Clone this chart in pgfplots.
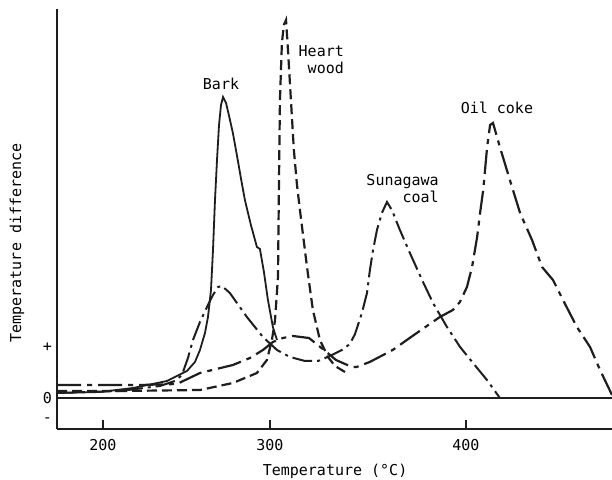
\documentclass[border=0pt]{standalone}
\usepackage{pgfplots}
\pgfplotsset{compat=1.18}
\usepackage{fontspec}
\setmainfont{DejaVu Sans Mono}
\definecolor{ink}{RGB}{30,30,30}
\begin{document}
\fontsize{15bp}{17bp}\selectfont
\begin{tikzpicture}
\useasboundingbox (0,0) rectangle (612bp,480bp);
\fill[white] (0,0) rectangle (612bp,480bp);
\begin{axis}[
  at={(57bp,51bp)}, anchor=south west,
  scale only axis, width=555bp, height=420bp,
  x coord trafo/.code={\pgfmathparse{103+1.67*(#1-200)+0.29*max(#1-300,0)}},
  xmin=172.5, xmax=474.5, ymin=-3.1, ymax=38.9,
  axis x line=bottom, axis y line=left,
  x axis line style={-, line width=2.4bp, ink},
  y axis line style={-, line width=2.4bp, ink},
  xtick={200,300,400}, xticklabels={200,300,400},
  ytick={-2.2,0,5.1}, yticklabels={-,0,+},
  xticklabel style={yshift=-5bp},
  major tick length=0pt,
  ytick style={draw=none},
  xlabel={Temperature (°C)}, ylabel={Temperature difference},
  xlabel style={at={(axis description cs:0.501,-0.1)}, anchor=center},
  ylabel style={at={(axis description cs:-0.072,0.443)}, anchor=center},
  every axis plot/.append style={ink, line width=2bp, no marks},
  clip=false,
]
% tick marks on the bottom axis (short vertical strokes pointing up)
\addplot[line width=2.5bp] coordinates {(200,-3.1) (200,-2.2)};
\addplot[line width=2.5bp] coordinates {(300,-3.1) (300,-2.2)};
\addplot[line width=2.5bp] coordinates {(400,-3.1) (400,-2.2)};
% zero line
\addplot[line width=2.5bp] coordinates {(172.5,0) (474.5,0)};
% Bark (solid)
\addplot[line width=1.8bp] coordinates {
(172.5,0.5) (198.2,0.6) (218.0,1.0) (238.3,1.7) (250.3,2.7) (255.1,3.6)
(258.1,4.8) (261.1,6.5) (262.9,8.1) (264.7,10.8) (265.9,14.8) (267.1,19.8)
(268.3,23.8) (269.5,27.3) (270.7,29.3) (271.9,30.1) (273.7,29.5) (275.4,28.3)
(277.8,26.5) (280.2,24.3) (282.6,22.0) (285.0,19.8) (288.6,17.3) (292.2,15.1)
(294.0,14.9) (296.4,12.6) (298.8,9.8) (301.5,7.1) (303.6,5.8)};
% Heart wood (dashed)
\addplot[line width=2.2bp, dash pattern=on 10bp off 5bp] coordinates {
(172.5,0.7) (210.2,0.7) (258.1,0.8) (277.8,1.5) (292.2,2.5) (298.2,3.8)
(301.0,5.8) (302.6,7.8) (304.1,12.1) (304.6,21.5) (305.1,29.8) (306.1,35.5)
(307.1,37.3) (308.2,37.8) (309.2,34.8) (310.7,29.8) (312.2,24.8) (313.8,21.3)
(315.3,18.8) (318.9,13.1) (321.9,8.8) (325.5,5.8) (329.6,4.1) (333.2,3.2) (338.3,2.6)};
% Sunagawa coal (dash-dot)
\addplot[line width=2bp, dash pattern=on 20bp off 5bp on 3bp off 5bp] coordinates {
(172.5,0.5) (210.2,0.7) (234.1,1.2) (243.1,1.7) (247.3,2.3) (250.9,4.0)
(253.9,5.8) (258.1,7.6) (262.3,9.1) (265.9,10.3) (268.9,11.1) (271.3,11.2)
(276.0,10.5) (286.2,8.1) (295.8,6.1) (303.6,4.8) (310.2,4.1) (317.9,3.7)
(324.5,3.7) (330.6,4.2) (336.7,4.8) (340.8,5.4) (343.4,6.4) (346.9,8.5)
(349.5,10.5) (351.0,12.8) (352.6,14.8) (354.6,16.8) (357.1,18.5) (359.7,19.6)
(362.2,18.8) (366.3,16.8) (371.4,14.5) (377.6,11.8) (383.2,9.5) (390.3,7.1)
(397.0,5.1) (403.6,3.5) (410.7,1.8) (417.3,0.0)};
% Oil coke (long dash - short dash)
\addplot[line width=2.2bp, dash pattern=on 24bp off 6bp on 5bp off 6bp] coordinates {
(172.5,1.3) (198.2,1.3) (222.2,1.3) (244.3,1.4) (258.1,2.5) (277.8,3.3)
(288.0,4.0) (295.8,4.8) (301.5,5.6) (306.6,6.0) (311.7,6.2) (319.9,6.0)
(327.6,4.8) (333.7,3.8) (341.8,3.1) (344.2,3.1) (350.9,3.6) (362.6,4.8)
(374.9,6.5) (386.7,8.1) (393.3,8.8) (396.9,9.6) (400.5,11.1) (403.1,13.1)
(405.7,16.1) (407.2,18.5) (408.8,20.8) (410.8,25.1) (412.3,27.3) (413.8,27.5)
(417.3,25.1) (422.4,21.8) (427.6,18.5) (433.7,15.8) (438.8,13.1) (444.4,11.8)
(449.5,9.8) (456.6,7.1) (463.3,5.1) (468.4,2.8) (474.5,0.3)};
% curve labels
\node at (axis cs:270.7,31.4) {Bark};
\node[anchor=east, align=right, inner sep=0pt] at (axis cs:337.8,33.8) {Heart\\wood};
\node[anchor=east, align=right, inner sep=0pt] at (axis cs:386.2,20.9) {Sunagawa\\coal};
\node at (axis cs:415.8,29.0) {Oil coke};
\end{axis}
\end{tikzpicture}
\end{document}
